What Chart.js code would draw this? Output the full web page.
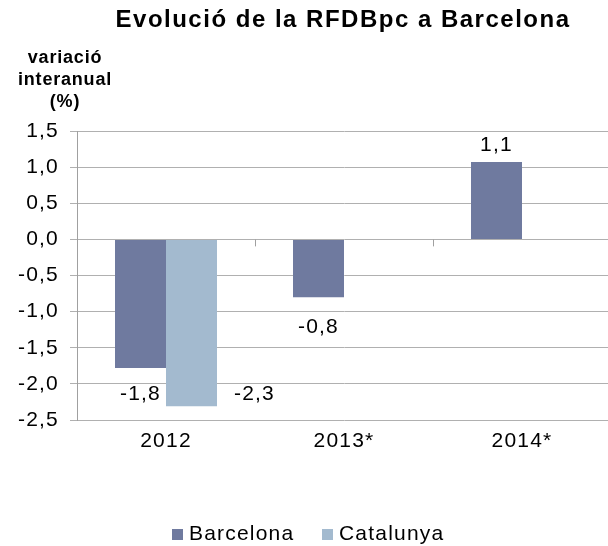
<!DOCTYPE html>
<html><head><meta charset="utf-8">
<script src="https://cdn.jsdelivr.net/npm/chart.js@4"></script>
<style>html,body{margin:0;padding:0;overflow:hidden;background:#fff}#wrap{width:611px;height:546px}</style>
</head><body><div id="wrap"><canvas id="c" width="611" height="546"></canvas></div>
<script>
const categories = ['2012', '2013*', '2014*'];
const seriesNames = ['Barcelona', 'Catalunya'];
const barcelona = [-1.78, -0.80, 1.07];
const catalunya = [-2.31, null, null];
const yTickValues = [-2.5, -2.0, -1.5, -1.0, -0.5, 0.0, 0.5, 1.0, 1.5];
const titleText = 'Evolució de la RFDBpc a Barcelona';
const yTitleLines = ['variació', 'interanual', '(%)'];

const colors = ['#6f7a9f', '#a3bacf'];
const FONT = '"Liberation Sans", Arial, sans-serif';
const fmt = v => v.toFixed(1).replace('.', ',');

// label placement tweaks (dx, dy from bar end), per dataset/index
const labelShift = {
  '0-0': {dx: 0, dy: 26}, '1-0': {dx: 63, dy: -12},
  '0-1': {dx: 0, dy: 30}, '0-2': {dx: 0, dy: -17}
};

const decor = {
  id: 'decor',
  beforeDraw(chart) {
    chart.ctx.letterSpacing = '1.2px';
  },
  afterDraw(chart) {
    const ctx = chart.ctx;
    const xs = chart.scales.x, ys = chart.scales.y;
    ctx.save();
    // category ticks on zero line
    const y0 = ys.getPixelForValue(0);
    const cw = (xs.right - xs.left) / categories.length;
    ctx.strokeStyle = '#a0a0a0';
    ctx.lineWidth = 1;
    for (let i = 1; i < categories.length; i++) {
      const x = Math.round(xs.left + cw * i) + 0.5;
      ctx.beginPath(); ctx.moveTo(x, y0); ctx.lineTo(x, y0 + 7); ctx.stroke();
    }
    // data labels
    ctx.fillStyle = '#000';
    ctx.letterSpacing = '1.2px';
    ctx.font = '21px ' + FONT;
    ctx.textAlign = 'center';
    ctx.textBaseline = 'middle';
    chart.data.datasets.forEach((ds, di) => {
      const meta = chart.getDatasetMeta(di);
      meta.data.forEach((el, i) => {
        const v = ds.data[i];
        if (v === null || v === undefined) return;
        const s = labelShift[di + '-' + i] || {dx: 0, dy: v < 0 ? 26 : -17};
        ctx.fillText(fmt(v), el.x + s.dx, el.y + s.dy);
      });
    });
    // title
    ctx.letterSpacing = '1.5px';
    ctx.font = 'bold 24px ' + FONT;
    ctx.fillText(titleText, 343, 20);
    // y title
    ctx.letterSpacing = '0.8px';
    ctx.font = 'bold 18px ' + FONT;
    yTitleLines.forEach((t, k) => ctx.fillText(t, 65, 58 + k * 22));
    // legend
    ctx.letterSpacing = '1.2px';
    ctx.font = '21px ' + FONT;
    ctx.textAlign = 'left';
    const lx = [172, 322];
    seriesNames.forEach((n, k) => {
      ctx.fillStyle = colors[k];
      ctx.fillRect(lx[k], 529, 11, 11);
      ctx.fillStyle = '#000';
      ctx.fillText(n, lx[k] + 17, 534);
    });
    ctx.restore();
  }
};

new Chart(document.getElementById('c'), {
  type: 'bar',
  data: {
    labels: categories,
    datasets: [
      {label: seriesNames[0], data: barcelona, backgroundColor: colors[0]},
      {label: seriesNames[1], data: catalunya, backgroundColor: colors[1]}
    ]
  },
  options: {
    responsive: false,
    animation: false,
    devicePixelRatio: 1,
    layout: {padding: {top: 131, bottom: 86, left: 0, right: 0}},
    datasets: {bar: {barPercentage: 1, categoryPercentage: 0.573}},
    plugins: {legend: {display: false}, title: {display: false}, tooltip: {enabled: false}},
    scales: {
      x: {
        grid: {display: false, drawTicks: false},
        border: {display: false},
        ticks: {font: {size: 21, family: FONT}, color: '#000', padding: 9},
        afterFit: s => { s.height = 40; }
      },
      y: {
        min: -2.5, max: 1.5,
        afterBuildTicks: s => { s.ticks = yTickValues.map(v => ({value: v})); },
        ticks: {font: {size: 21, family: FONT}, color: '#000', padding: 11, callback: v => fmt(v)},
        grid: {color: '#b0b0b0', lineWidth: 1, tickLength: 7},
        border: {color: '#a0a0a0'},
        afterFit: s => { s.width = 77; }
      }
    }
  },
  plugins: [decor]
});
</script>
</body></html>
